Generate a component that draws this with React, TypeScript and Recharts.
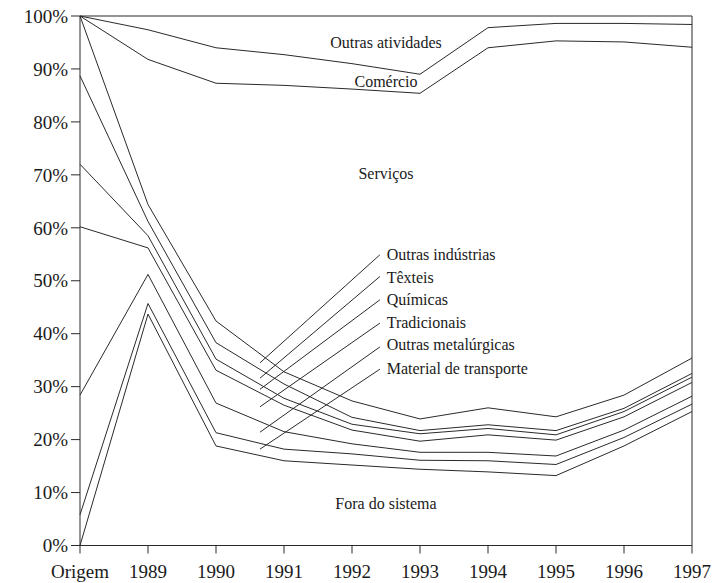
import React from 'react';
import { LineChart, Line, XAxis, YAxis, ReferenceLine, ReferenceDot } from 'recharts';

const categories = ['Origem', '1989', '1990', '1991', '1992', '1993', '1994', '1995', '1996', '1997'];
const yTicks = [0, 10, 20, 30, 40, 50, 60, 70, 80, 90, 100];

// cumulative boundary lines (top edge of each band), in %
const foraDoSistema = [0, 43.7, 18.8, 16.0, 15.2, 14.4, 13.9, 13.2, 18.8, 25.3];
const materialTransporte = [5.8, 45.7, 21.3, 18.2, 17.3, 16.1, 16.0, 15.3, 20.4, 26.7];
const outrasMetalurgicas = [28.4, 51.2, 26.9, 21.5, 19.2, 17.6, 17.6, 16.9, 21.8, 28.2];
const tradicionais = [60.2, 56.2, 33.1, 26.5, 21.8, 19.7, 20.9, 19.9, 24.3, 30.8];
const quimicas = [72.0, 58.5, 35.2, 27.8, 22.9, 21.1, 22.1, 20.9, 25.3, 31.8];
const texteis = [88.7, 61.2, 38.3, 30.5, 24.2, 21.7, 22.8, 21.7, 25.9, 32.5];
const outrasIndustrias = [100, 64.4, 42.4, 32.8, 27.3, 23.9, 26.0, 24.3, 28.4, 35.4];
const servicos = [100, 91.8, 87.3, 86.9, 86.2, 85.4, 94.0, 95.3, 95.1, 94.1];
const comercio = [100, 97.4, 94.0, 92.7, 91.0, 89.0, 97.8, 98.6, 98.6, 98.4];

const seriesList = [
  { key: 'fora', values: foraDoSistema },
  { key: 'material', values: materialTransporte },
  { key: 'outrasMet', values: outrasMetalurgicas },
  { key: 'tradicionais', values: tradicionais },
  { key: 'quimicas', values: quimicas },
  { key: 'texteis', values: texteis },
  { key: 'outrasInd', values: outrasIndustrias },
  { key: 'servicos', values: servicos },
  { key: 'comercio', values: comercio },
];

const data = categories.map((c, i) => {
  const row: Record<string, number | string> = { x: i, name: c };
  seriesList.forEach((s) => {
    row[s.key] = s.values[i];
  });
  return row;
});

// band labels placed in data coordinates (x index, y %)
const bandLabels = [
  { text: 'Outras atividades', x: 4.5, y: 95.0 },
  { text: 'Comércio', x: 4.5, y: 87.6 },
  { text: 'Serviços', x: 4.5, y: 70.3 },
  { text: 'Fora do sistema', x: 4.5, y: 8.0 },
];

// industry labels with leader lines
const pointerLabels = ['Outras indústrias', 'Têxteis', 'Químicas', 'Tradicionais', 'Outras metalúrgicas', 'Material de transporte'];
const pointerLabelY = [54.9, 50.7, 46.5, 42.2, 37.9, 33.5];
const pointerStartY = [34.5, 31.6, 29.5, 26.2, 21.4, 18.2];
const pointerEndY = [54.9, 50.8, 46.4, 42.0, 37.5, 33.3];
const pointerStartX = 2.647;
const pointerEndX = 4.41;
const pointerTextX = 4.51;

const FONT = 'Liberation Serif, DejaVu Serif, serif';
const INK = '#2a2a2a';

export default function App() {
  return (
    <div style={{ width: 713, height: 583, overflow: 'hidden' }}>
      <style>{'html,body{margin:0;padding:0;overflow:hidden;}'}</style>
      <LineChart
        width={713}
        height={583}
        data={data}
        margin={{ top: 16, right: 21, bottom: 0, left: 0 }}
      >
        <XAxis
          dataKey="x"
          type="number"
          domain={[0, 9]}
          ticks={[0, 1, 2, 3, 4, 5, 6, 7, 8, 9]}
          tickFormatter={(v: number) => categories[v]}
          height={37.5}
          tickSize={8}
          tickMargin={11}
          stroke={INK}
          tick={{ fill: '#1a1a1a', fontSize: 19, fontFamily: FONT }}
          interval={0}
        />
        <YAxis
          type="number"
          domain={[0, 100]}
          ticks={yTicks}
          tickFormatter={(v: number) => `${v}%`}
          width={80}
          tickSize={9}
          tickMargin={3}
          stroke={INK}
          tick={{ fill: '#1a1a1a', fontSize: 19, fontFamily: FONT }}
          interval={0}
        />
        <ReferenceLine y={100} stroke={INK} strokeWidth={1} ifOverflow="visible" />
        <ReferenceLine x={9} stroke={INK} strokeWidth={1} ifOverflow="visible" />
        {seriesList.map((s) => (
          <Line
            key={s.key}
            dataKey={s.key}
            type="linear"
            stroke={INK}
            strokeWidth={1}
            dot={false}
            activeDot={false}
            isAnimationActive={false}
          />
        ))}
        {pointerLabels.map((t, i) => (
          <ReferenceLine
            key={'seg' + t}
            segment={[
              { x: pointerStartX, y: pointerStartY[i] },
              { x: pointerEndX, y: pointerEndY[i] },
            ]}
            stroke={INK}
            strokeWidth={1}
          />
        ))}
        {pointerLabels.map((t, i) => (
          <ReferenceDot
            key={'lbl' + t}
            x={pointerTextX}
            y={pointerLabelY[i]}
            r={0}
            shape={(p: any) => (
              <text
                x={p.cx}
                y={p.cy}
                dy="0.35em"
                textAnchor="start"
                fontFamily={FONT}
                fontSize={16}
                fill="#1a1a1a"
              >
                {t}
              </text>
            )}
          />
        ))}
        {bandLabels.map((b) => (
          <ReferenceDot
            key={'band' + b.text}
            x={b.x}
            y={b.y}
            r={0}
            shape={(p: any) => (
              <text
                x={p.cx}
                y={p.cy}
                dy="0.35em"
                textAnchor="middle"
                fontFamily={FONT}
                fontSize={16}
                fill="#1a1a1a"
              >
                {b.text}
              </text>
            )}
          />
        ))}
      </LineChart>
    </div>
  );
}
